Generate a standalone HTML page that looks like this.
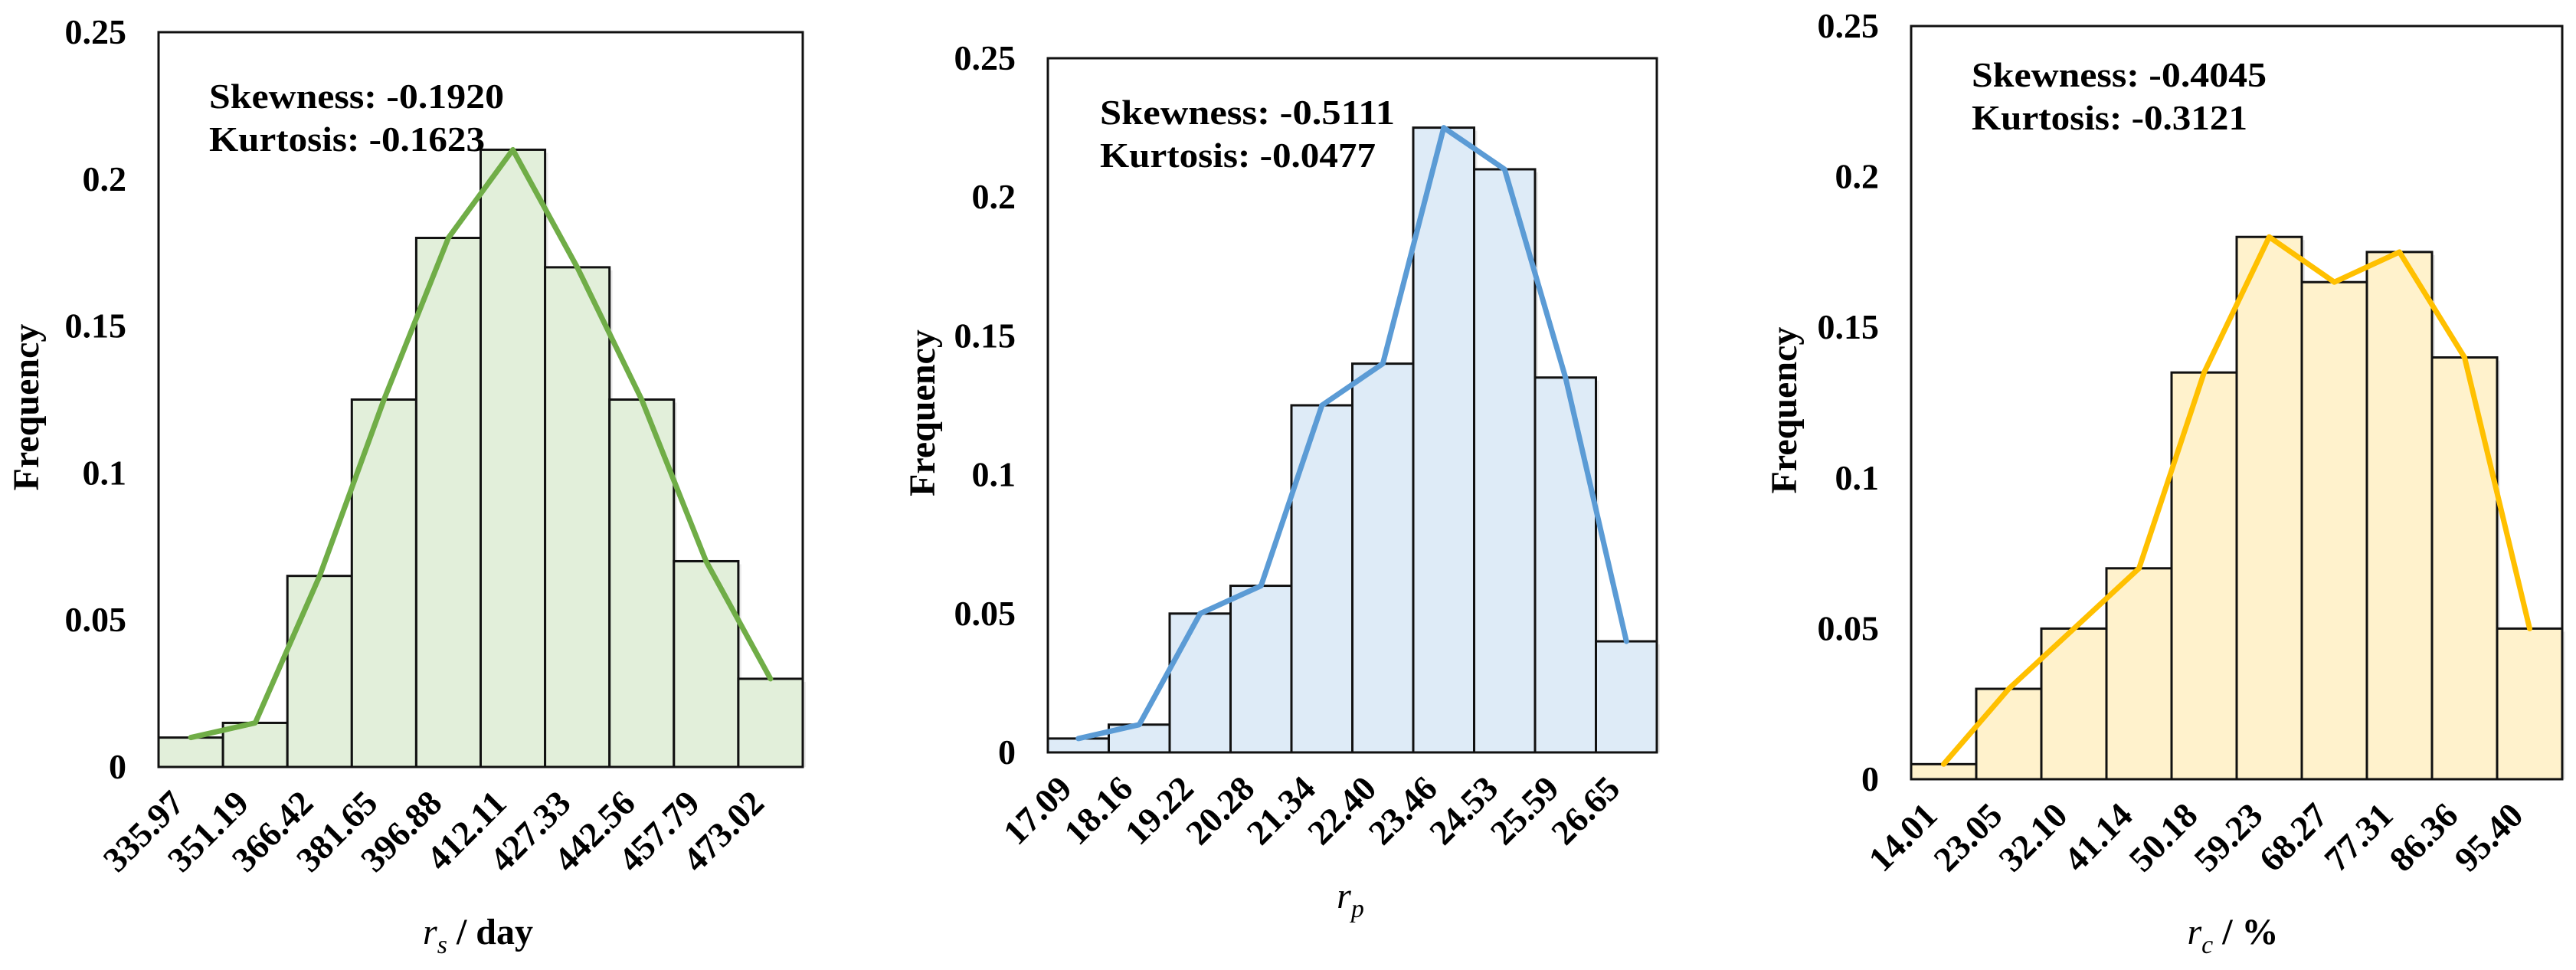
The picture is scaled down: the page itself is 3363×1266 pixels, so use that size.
<!DOCTYPE html>
<html><head><meta charset="utf-8"><style>
html,body{margin:0;padding:0;background:#fff;}
svg{display:block;font-family:"Liberation Serif",serif;}
</style></head>
<body>
<svg id="fig" width="3363" height="1266" viewBox="0 0 3363 1266" xmlns="http://www.w3.org/2000/svg"></svg>
<script>
// ---- data ----
const yTicks = [0, 0.05, 0.1, 0.15, 0.2, 0.25];
const yTickLabels = ["0", "0.05", "0.1", "0.15", "0.2", "0.25"];
const rsCategories = ["335.97","351.19","366.42","381.65","396.88","412.11","427.33","442.56","457.79","473.02"];
const rsValues = [0.01, 0.015, 0.065, 0.125, 0.18, 0.21, 0.17, 0.125, 0.07, 0.03];
const rpCategories = ["17.09","18.16","19.22","20.28","21.34","22.40","23.46","24.53","25.59","26.65"];
const rpValues = [0.005, 0.01, 0.05, 0.06, 0.125, 0.14, 0.225, 0.21, 0.135, 0.04];
const rcCategories = ["14.01","23.05","32.10","41.14","50.18","59.23","68.27","77.31","86.36","95.40"];
const rcValues = [0.005, 0.03, 0.05, 0.07, 0.135, 0.18, 0.165, 0.175, 0.14, 0.05];
const statsRs = ["Skewness: -0.1920", "Kurtosis: -0.1623"];
const statsRp = ["Skewness: -0.5111", "Kurtosis: -0.0477"];
const statsRc = ["Skewness: -0.4045", "Kurtosis: -0.3121"];

const NS = "http://www.w3.org/2000/svg";
const svg = document.getElementById("fig");
function mk(tag, attrs, parent) {
  const e = document.createElementNS(NS, tag);
  for (const k in attrs) e.setAttribute(k, attrs[k]);
  (parent || svg).appendChild(e);
  return e;
}

function drawChart(cfg) {
  const g = mk("g", {});
  
  
  const L = cfg.x0, R = cfg.x1, T = cfg.y0, B = cfg.y1;
  const ymax = 0.25;
  const yS = v => B - (v / ymax) * (B - T);
  const n = cfg.cats.length;
  const bw = (R - L) / n;
  const xS = i => L + i * bw;

  cfg.vals.forEach((v, i) => {
    const sh = mk("rect", {x: xS(i) + 4, y: yS(v) + 4, width: bw, height: B - yS(v) - 4, fill: "#000", opacity: 0.08}, g);
    
    
  });
  cfg.vals.forEach((v, i) => {
    const r = mk("rect", {x: xS(i), y: yS(v), width: bw, height: B - yS(v), fill: cfg.fill, stroke: "#111", "stroke-width": 3}, g);
    
    
  });
  const fr = mk("rect", {x: L, y: T, width: R - L, height: B - T, fill: "none", stroke: "#111", "stroke-width": 3}, g);
  
  

  const pts = cfg.vals.map((v, i) => (xS(i) + bw / 2).toFixed(1) + "," + yS(v).toFixed(1)).join(" ");
  const pl = mk("polyline", {points: pts, fill: "none", stroke: cfg.line, "stroke-width": 7, "stroke-linejoin": "round", "stroke-linecap": "round"}, g);
  
  

  yTicks.forEach((t, i) => {
    const tx = mk("text", {x: L - 42, y: yS(t) + 15, "text-anchor": "end", "font-size": 46, "font-weight": "bold"}, g);
    tx.textContent = yTickLabels[i];
    
    
  });
  cfg.cats.forEach((c, i) => {
    const cx = xS(i) + bw / 2 - 6, cy = B + 50;
    const tx = mk("text", {x: cx, y: cy, "text-anchor": "end", "font-size": 46, "font-weight": "bold", transform: "rotate(-45 " + cx + " " + cy + ")"}, g);
    tx.textContent = c;
    
    
  });
  const yc = (T + B) / 2 + 10;
  const yt = mk("text", {x: cfg.yTitleX, y: yc, "text-anchor": "middle", "font-size": 48, "font-weight": "bold", transform: "rotate(-90 " + cfg.yTitleX + " " + yc + ")"}, g);
  yt.textContent = "Frequency";
  
  
  const xt = mk("text", {x: cfg.xTitleX, y: cfg.xTitleY, "text-anchor": "middle", "font-size": 48, "font-weight": "bold"}, g);
  
  
  const t1 = mk("tspan", {"font-style": "italic", "font-weight": "normal"}, xt); t1.textContent = "r";
  const t2 = mk("tspan", {"font-style": "italic", "font-weight": "normal", "font-size": 34, dy: 12}, xt); t2.textContent = cfg.sub;
  if (cfg.unit) { const t3 = mk("tspan", {dy: -12}, xt); t3.textContent = " " + cfg.unit; }
  cfg.stats.forEach((s, i) => {
    const st = mk("text", {x: cfg.statX, y: cfg.statY + i * 56, "font-size": 46, "font-weight": "bold", textLength: i === 0 ? 385 : 360, lengthAdjust: "spacingAndGlyphs"}, g);
    st.textContent = s;
    
    
  });
}

drawChart({name: "chart-rs", x0: 207, x1: 1048, y0: 42, y1: 1001, cats: rsCategories, vals: rsValues,
  fill: "#e2efda", line: "#70ad47", yTitleX: 50, xTitleX: 624, xTitleY: 1232, sub: "s", unit: "/ day",
  stats: statsRs, statX: 273, statY: 141});
drawChart({name: "chart-rp", x0: 1368, x1: 2163, y0: 76, y1: 982, cats: rpCategories, vals: rpValues,
  fill: "#deebf7", line: "#5b9bd5", yTitleX: 1220, xTitleX: 1763, xTitleY: 1185, sub: "p", unit: "",
  stats: statsRp, statX: 1436, statY: 162});
drawChart({name: "chart-rc", x0: 2495, x1: 3345, y0: 34, y1: 1017, cats: rcCategories, vals: rcValues,
  fill: "#fff2cc", line: "#ffc000", yTitleX: 2345, xTitleX: 2915, xTitleY: 1232, sub: "c", unit: "/ %",
  stats: statsRc, statX: 2574, statY: 113});
</script>
</body></html>
